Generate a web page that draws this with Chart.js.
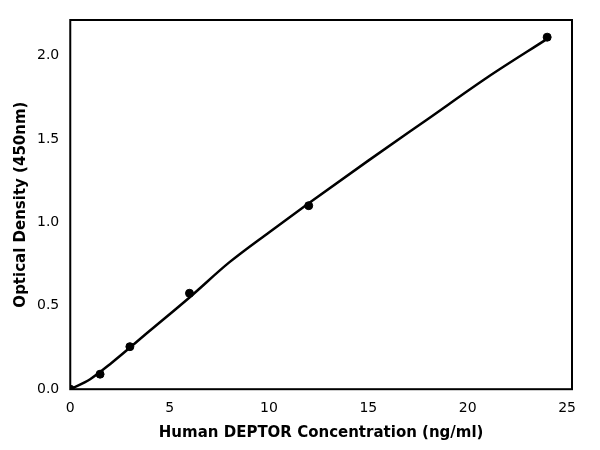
<!DOCTYPE html>
<html><head>
<script src="https://cdn.jsdelivr.net/npm/chart.js@4"></script>
<style>body{margin:0;background:#fff}</style>
</head><body>
<canvas id="c" width="600" height="450"></canvas>
<script>
const concX = [0, 1.5, 3, 6, 12, 24];
const odY = [0.0, 0.09, 0.255, 0.575, 1.1, 2.11];
const fitX = [0, 1, 2, 4, 6, 8, 10, 12, 15, 18, 21, 24];
const fitY = [0.0, 0.06, 0.15, 0.35, 0.55, 0.76, 0.94, 1.115, 1.37, 1.62, 1.87, 2.1];
const xTicks = [0, 5, 10, 15, 20, 25];
const yTicks = [0.0, 0.5, 1.0, 1.5, 2.0];

Chart.defaults.font.family = 'DejaVu Sans';
Chart.defaults.color = '#000';

const frame = {
  id: 'frame',
  afterDraw(ch) {
    const a = ch.chartArea, c = ch.ctx;
    c.save(); c.strokeStyle = '#000'; c.lineWidth = 2;
    c.strokeRect(a.left, a.top, a.right - a.left, a.bottom - a.top);
    c.restore();
  }
};

new Chart(document.getElementById('c'), {
  type: 'scatter',
  data: {
    datasets: [
      { data: fitX.map((x, i) => ({ x, y: fitY[i] })), showLine: true, borderColor: '#000', borderWidth: 2.5, pointRadius: 0, cubicInterpolationMode: 'monotone' },
      { data: concX.map((x, i) => ({ x, y: odY[i] })), backgroundColor: '#000', borderColor: '#000', pointRadius: 4 }
    ]
  },
  plugins: [frame],
  options: {
    responsive: false, animation: false, devicePixelRatio: 1,
    layout: { padding: { top: 20, right: 28, left: 8, bottom: 4 } },
    plugins: { legend: { display: false }, tooltip: { enabled: false } },
    scales: {
      x: {
        type: 'linear', min: 0, max: 25.25,
        afterBuildTicks: s => { s.ticks = xTicks.map(v => ({ value: v })); },
        grid: { display: false },
        border: { display: false },
        ticks: { font: { size: 14 }, callback: v => v },
        title: { display: true, text: 'Human DEPTOR Concentration (ng/ml)', font: { size: 15, weight: 'bold' } }
      },
      y: {
        min: 0, max: 2.213,
        afterBuildTicks: s => { s.ticks = yTicks.map(v => ({ value: v })); },
        grid: { display: false },
        border: { display: false },
        ticks: { font: { size: 14 }, callback: v => v.toFixed(1) },
        title: { display: true, text: 'Optical Density (450nm)', font: { size: 15, weight: 'bold' } }
      }
    }
  }
});
</script>
</body></html>
